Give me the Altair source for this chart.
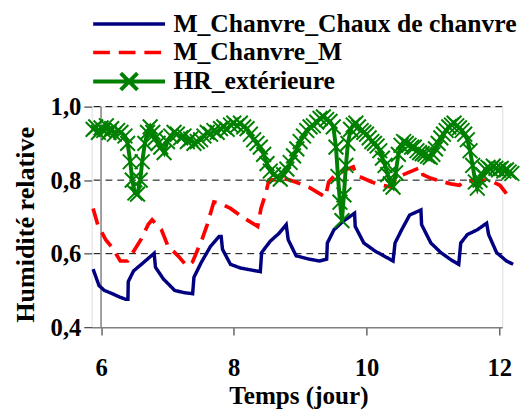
import altair as alt
import pandas as pd

# ---- data ----
series_names = ["M_Chanvre_Chaux de chanvre", "M_Chanvre_M", "HR_extérieure"]
series_colors = ["#000080", "#FF0000", "#008000"]
series_dashes = [[1, 0], [17, 9], [1, 0]]
series_widths = [3.5, 4, 2.5]

blue_t = [5.88, 5.97, 6.05, 6.17, 6.28, 6.37, 6.405, 6.41, 6.49, 6.64, 6.80, 6.82, 6.94, 7.11, 7.25, 7.38,
          7.40, 7.51, 7.65, 7.78, 7.81, 7.83, 7.95, 8.10, 8.25, 8.40, 8.42, 8.55, 8.68, 8.79, 8.82, 8.94,
          9.14, 9.29, 9.40, 9.41, 9.51, 9.64, 9.82, 9.83, 9.96, 10.13, 10.28, 10.40, 10.43, 10.53, 10.65,
          10.82, 10.83, 10.97, 11.12, 11.26, 11.39, 11.42, 11.52, 11.67, 11.81, 11.84, 11.96, 12.11, 12.21]
blue_v = [0.558, 0.513, 0.500, 0.491, 0.482, 0.476, 0.476, 0.524, 0.553, 0.576, 0.601, 0.563, 0.531, 0.500,
          0.494, 0.491, 0.536, 0.576, 0.620, 0.647, 0.647, 0.612, 0.571, 0.561, 0.556, 0.551, 0.603, 0.634,
          0.655, 0.679, 0.638, 0.594, 0.585, 0.580, 0.585, 0.629, 0.665, 0.687, 0.710, 0.674, 0.629, 0.607,
          0.592, 0.580, 0.629, 0.665, 0.705, 0.719, 0.679, 0.629, 0.603, 0.585, 0.571, 0.629, 0.652, 0.665,
          0.683, 0.652, 0.603, 0.580, 0.571]

red_t = [5.88, 5.95, 6.07, 6.17, 6.29, 6.40, 6.51, 6.60, 6.71, 6.77, 6.91, 7.01, 7.16, 7.29, 7.38, 7.53,
         7.60, 7.70, 7.80, 7.95, 8.12, 8.36, 8.41, 8.48, 8.53, 8.78, 8.93, 9.13, 9.38, 9.43, 9.51, 9.68,
         9.80, 9.85, 10.08, 10.23, 10.38, 10.44, 10.53, 10.82, 10.85, 10.97, 11.27, 11.40, 11.47, 11.62,
         11.80, 11.91, 12.01, 12.11, 12.16]
red_v = [0.723, 0.679, 0.638, 0.616, 0.580, 0.580, 0.612, 0.638, 0.679, 0.692, 0.665, 0.620, 0.594, 0.567,
         0.578, 0.643, 0.679, 0.741, 0.737, 0.723, 0.701, 0.674, 0.723, 0.763, 0.800, 0.804, 0.795, 0.781,
         0.754, 0.795, 0.810, 0.828, 0.836, 0.813, 0.795, 0.786, 0.781, 0.805, 0.813, 0.835, 0.815, 0.805,
         0.790, 0.786, 0.797, 0.799, 0.800, 0.795, 0.786, 0.763, 0.755]

green_t = [5.88, 5.92, 5.96, 6.00, 6.04, 6.08, 6.12, 6.16, 6.20, 6.25, 6.30, 6.36, 6.40, 6.44, 6.47, 6.51,
           6.55, 6.59, 6.62, 6.66, 6.70, 6.74, 6.78, 6.82, 6.86, 6.90, 6.95, 7.00, 7.05, 7.10, 7.15, 7.20,
           7.25, 7.30, 7.35, 7.40, 7.45, 7.50, 7.55, 7.60, 7.65, 7.70, 7.75, 7.80, 7.85, 7.90, 7.95, 8.00,
           8.05, 8.10, 8.15, 8.20, 8.25, 8.30, 8.35, 8.40, 8.45, 8.50, 8.55, 8.60, 8.65, 8.70, 8.75, 8.80,
           8.85, 8.90, 8.95, 9.00, 9.05, 9.10, 9.15, 9.20, 9.25, 9.30, 9.35, 9.40, 9.45, 9.50, 9.54, 9.57,
           9.60, 9.63, 9.66, 9.69, 9.72, 9.76, 9.80, 9.84, 9.88, 9.92, 9.96, 10.00, 10.04, 10.08, 10.12,
           10.16, 10.20, 10.24, 10.28, 10.32, 10.36, 10.40, 10.44, 10.48, 10.52, 10.56, 10.60, 10.64, 10.68,
           10.72, 10.76, 10.80, 10.84, 10.88, 10.92, 10.96, 11.00, 11.04, 11.08, 11.12, 11.16, 11.20, 11.24,
           11.28, 11.32, 11.36, 11.40, 11.44, 11.48, 11.52, 11.56, 11.60, 11.64, 11.67, 11.71, 11.75, 11.79,
           11.83, 11.87, 11.91, 11.95, 11.99, 12.03, 12.07, 12.11, 12.15, 12.19]
green_v = [0.938, 0.945, 0.930, 0.942, 0.935, 0.948, 0.930, 0.940, 0.925, 0.935, 0.930, 0.920, 0.900, 0.850,
           0.800, 0.765, 0.762, 0.800, 0.850, 0.900, 0.930, 0.945, 0.930, 0.915, 0.900, 0.890, 0.875, 0.905,
           0.920, 0.930, 0.925, 0.915, 0.920, 0.905, 0.912, 0.900, 0.905, 0.910, 0.920, 0.930, 0.925, 0.935,
           0.930, 0.940, 0.945, 0.938, 0.950, 0.955, 0.948, 0.955, 0.945, 0.940, 0.925, 0.910, 0.900, 0.890,
           0.870, 0.845, 0.825, 0.815, 0.810, 0.803, 0.815, 0.830, 0.848, 0.866, 0.885, 0.905, 0.920, 0.935,
           0.945, 0.948, 0.958, 0.968, 0.972, 0.965, 0.960, 0.945, 0.890, 0.810, 0.740, 0.690, 0.760, 0.840,
           0.900, 0.938, 0.950, 0.955, 0.945, 0.935, 0.930, 0.925, 0.915, 0.905, 0.900, 0.893, 0.880, 0.860,
           0.840, 0.815, 0.790, 0.781, 0.820, 0.870, 0.895, 0.905, 0.900, 0.895, 0.890, 0.890, 0.880, 0.875,
           0.872, 0.870, 0.865, 0.862, 0.870, 0.885, 0.900, 0.915, 0.925, 0.935, 0.945, 0.950, 0.955, 0.948,
           0.942, 0.935, 0.925, 0.910, 0.880, 0.840, 0.795, 0.778, 0.800, 0.815, 0.830, 0.835, 0.830, 0.838,
           0.832, 0.828, 0.832, 0.825, 0.828, 0.822, 0.818]

y_ticks = [0.4, 0.6, 0.8, 1.0]
y_grid = [0.6, 0.8, 1.0]
x_ticks = [6, 8, 10, 12]
x_domain = [5.859, 12.046]
y_domain = [0.4, 1.0]

FONT = "Liberation Serif"

frames = []
for name, ts, vs in zip(series_names, [blue_t, red_t, green_t], [blue_v, red_v, green_v]):
    frames.append(pd.DataFrame({"t": ts, "v": vs, "serie": name, "i": range(len(ts))}))
df = pd.concat(frames, ignore_index=True)
green_df = frames[2]

x_scale = alt.Scale(domain=x_domain, nice=False, zero=False)
y_scale = alt.Scale(domain=y_domain, nice=False, zero=False)

x_axis = alt.Axis(values=x_ticks, grid=False, domainColor="#808080", domainWidth=1.5,
                  tickColor="#404040", tickSize=8, tickWidth=1.2,
                  labelFont=FONT, labelFontSize=25, labelFontWeight="bold", labelColor="black",
                  labelBaseline="alphabetic", labelPadding=41,
                  titleFont=FONT, titleFontSize=25.5, titleFontWeight="bold",
                  titleColor="black", titleBaseline="alphabetic", titleAlign="center",
                  titleX=210, titleY=78)
y_axis = alt.Axis(values=y_ticks, grid=False, domain=False,
                  labelExpr="replace(format(datum.value, '.1f'), '.', ',')",
                  tickColor="#404040", tickSize=8, tickWidth=1.2,
                  labelFont=FONT, labelFontSize=25, labelFontWeight="bold", labelColor="black",
                  labelPadding=3, titleFont=FONT, titleFontSize=26.5, titleFontWeight="bold",
                  titleColor="black", titleBaseline="alphabetic", titleAngle=270,
                  titleX=-59, titleY=119.5)
X_TITLE = "Temps (jour)"
Y_TITLE = "Humidité relative"


def xenc(field):
    return alt.X(field, scale=x_scale, axis=x_axis, title=X_TITLE)


def yenc(field):
    return alt.Y(field, scale=y_scale, axis=y_axis, title=Y_TITLE)


LINE_PATH = "M-3.65,-0.85M3.65,0.85M-3.65,0L3.65,0"
LINEX_PATH = "M-3.65,0L3.65,0M-0.85,-0.85L0.85,0.85M-0.85,0.85L0.85,-0.85"

legend = alt.Legend(
    title=None, orient="none", legendX=25, legendY=-97, direction="vertical",
    padding=0, rowPadding=-3.5, symbolSize=400, symbolStrokeWidth=3, symbolOffset=0,
    labelOffset=32, labelFont=FONT, labelFontSize=26, labelFontWeight="bold",
    labelColor="black", labelLimit=450,
)

grid = alt.Chart(pd.DataFrame({"v": y_grid})).mark_rule(
    color="black", strokeWidth=1, strokeDash=[7, 5]
).encode(y=yenc("v:Q"))

vline = alt.Chart(pd.DataFrame({"t": [6], "v": [0.4], "v2": [1.0]})).mark_rule(
    color="#808080", strokeWidth=1.5
).encode(x=xenc("t:Q"), y=yenc("v:Q"), y2="v2:Q")

lines = alt.Chart(df).mark_line(clip=False).encode(
    x=xenc("t:Q"),
    y=yenc("v:Q"),
    color=alt.Color("serie:N", scale=alt.Scale(domain=series_names, range=series_colors), legend=legend),
    strokeDash=alt.StrokeDash("serie:N", scale=alt.Scale(domain=series_names, range=series_dashes),
                              legend=legend),
    strokeWidth=alt.StrokeWidth("serie:N", scale=alt.Scale(domain=series_names, range=series_widths),
                                legend=None),
    order=alt.Order("i:Q"),
)

# empty layer that only contributes the legend symbol shapes
legend_shapes = alt.Chart(df).transform_filter("datum.t < 0").mark_point(
    size=400, filled=False, strokeWidth=3, opacity=1
).encode(
    x=xenc("t:Q"), y=yenc("v:Q"),
    shape=alt.Shape("serie:N", scale=alt.Scale(domain=series_names,
                                               range=[LINE_PATH, LINE_PATH, LINEX_PATH]),
                    legend=legend),
)

green_line = alt.Chart(green_df).mark_line(color="#008000", strokeWidth=2.5, clip=False).encode(
    x=xenc("t:Q"), y=yenc("v:Q"), order=alt.Order("i:Q")
)

green_pts = alt.Chart(green_df).mark_point(
    shape="M-1,-1L1,1M-1,1L1,-1", size=225, filled=False, color="#008000",
    strokeWidth=2, opacity=1, clip=False
).encode(x=xenc("t:Q"), y=yenc("v:Q"))

chart = alt.layer(grid, vline, lines, legend_shapes, green_line, green_pts).properties(
    width=417, height=224,
    autosize=alt.AutoSizeParams(type="none"),
    padding={"left": 85, "top": 97, "right": 18, "bottom": 85},
).configure_view(stroke=None).configure(background="white")

chart.save("out.html", embed_options={"renderer": "svg", "actions": False})
